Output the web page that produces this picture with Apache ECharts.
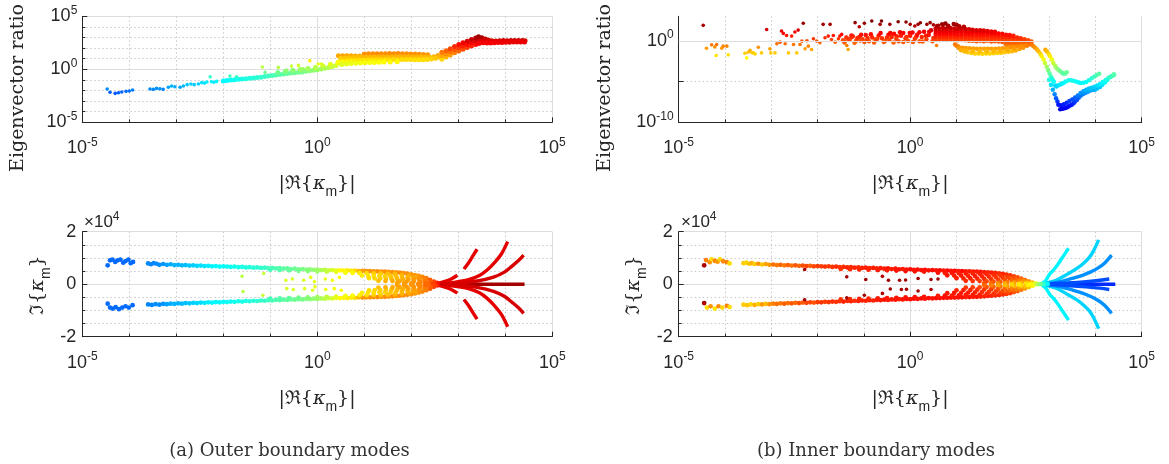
<!DOCTYPE html>
<html>
<head>
<meta charset="utf-8">
<script src="https://cdn.jsdelivr.net/npm/echarts@6/dist/echarts.min.js"></script>
<style>
html, body { margin: 0; background: #fff; }
#chart { width: 1169px; height: 464px; }
</style>
</head>
<body>
<div id="chart"></div>
<script>
// values; both top panels and all x axes are in decades
// top panels: [log10 |Re{k_m}|, log10 eigenvector ratio]
const outerRatioDots = [
  [-4.47,-1.86],[-4.41,-2.17],[-4.30,-2.27],[-4.23,-2.21],[-4.16,-2.14],[-4.07,-2.08],[-4.00,-2.05],[-3.93,-1.95],
  [-3.56,-1.86],[-3.49,-1.89],[-3.42,-1.80],[-3.35,-1.83],[-3.28,-1.89],[-3.17,-1.70],[-3.10,-1.58],[-3.03,-1.64],
  [-2.92,-1.70],[-2.85,-1.58],[-2.77,-1.45],[-2.69,-1.39],[-2.62,-1.45],[-2.53,-1.39],[-2.46,-1.26],[-2.40,-1.30],
  [-2.35,-1.20],[-2.28,-0.70],[-2.25,-1.17],[-2.20,-1.22],[-2.14,-1.14],[-1.86,-0.63],[-1.72,-0.70],[-1.17,0.22],
  [-1.11,-0.29],[-0.83,0.18],[-0.55,0.31],[-0.40,0.37],[-0.16,0.81],[0.02,0.50],[0.09,0.50],[-0.30,0.05],[-0.65,-0.10]
];
const outerRatioBand = [
  [-2.00,-1.10],[-1.92,-1.06],[-1.84,-1.02],[-1.76,-0.98],[-1.68,-0.95],[-1.60,-0.92],[-1.52,-0.88],[-1.44,-0.85],
  [-1.36,-0.82],[-1.28,-0.78],[-1.20,-0.74],[-1.12,-0.69],[-1.04,-0.64],[-0.96,-0.58],[-0.88,-0.53],[-0.80,-0.48],
  [-0.72,-0.44],[-0.64,-0.40],[-0.56,-0.36],[-0.48,-0.33],[-0.40,-0.29],[-0.32,-0.25],[-0.24,-0.19],[-0.16,-0.14],
  [-0.08,-0.09],[0.00,-0.05],[0.08,0.02],[0.16,0.10],[0.24,0.18],[0.32,0.26],[0.40,0.36],
  [-0.84,-0.30],[-0.68,-0.18],[-0.52,-0.10],[-0.36,-0.02],[-0.20,0.08],[-0.04,0.18],[0.12,0.32],[0.28,0.48],[0.44,0.62],
  [0.45,1.28],[0.54,1.29],[0.63,1.28],[0.72,1.27],[0.81,1.26],[0.90,1.25],
  [1.00,1.45],[1.09,1.46],[1.18,1.46],[1.27,1.47],[1.36,1.46],[1.45,1.47],[1.54,1.48],[1.63,1.47],[1.72,1.48],
  [1.81,1.47],[1.90,1.46],[1.99,1.45],[2.08,1.44],[2.17,1.42],[2.26,1.40],[2.35,1.38],
  [0.50,1.02],[0.59,1.05],[0.68,1.08],[0.77,1.10],[0.86,1.12],[0.95,1.14],[1.04,1.16],[1.13,1.15],[1.22,1.17],
  [1.31,1.16],[1.40,1.18],[1.49,1.17],[1.58,1.19],[1.67,1.18],[1.76,1.20],[1.85,1.19],[1.94,1.18],[2.03,1.17],
  [2.12,1.16],[2.21,1.15],[2.30,1.14],[2.39,1.14],[2.48,1.18],[2.57,1.30],
  [0.45,0.68],[0.54,0.72],[0.63,0.76],[0.72,0.80],[0.81,0.83],[0.90,0.85],[0.99,0.86],[1.08,0.88],[1.17,0.87],
  [1.26,0.89],[1.35,0.90],[1.44,0.89],[1.53,0.91],[1.62,0.92],[1.71,0.91],[1.80,0.93],[1.89,0.92],[1.98,0.92],
  [2.07,0.90],[2.16,0.90],[2.25,0.91],[2.34,0.93],[2.43,0.98],[2.52,1.05],[2.60,1.15],
  [0.52,0.45],[0.62,0.50],[0.72,0.55],[0.82,0.58],[0.92,0.60],[1.02,0.62],[1.12,0.63],[1.22,0.64],[1.32,0.66],
  [1.42,0.68],[1.55,0.70],[1.70,0.72],
  [2.65,0.95],[2.65,1.28],[2.65,1.60],[2.74,1.15],[2.74,1.45],[2.74,1.75],[2.83,1.35],[2.83,1.65],[2.83,1.95],
  [2.92,1.55],[2.92,1.85],[2.92,2.15],[3.01,1.72],[3.01,2.03],[3.01,2.35],[3.10,1.90],[3.10,2.20],[3.10,2.50],
  [3.19,2.05],[3.19,2.35],[3.19,2.65],[3.28,2.20],[3.28,2.50],[3.28,2.80],[3.37,2.35],[3.37,2.65],[3.37,2.95],
  [3.43,2.45],[3.43,2.75],[3.43,3.08],
  [3.50,2.98],[3.57,2.86],[3.64,2.76],[3.71,2.68],
  [3.48,2.70],[3.56,2.69],[3.64,2.68],[3.72,2.66],[3.80,2.68],[3.88,2.70],[3.96,2.71],[4.04,2.70],[4.12,2.71],
  [4.20,2.72],[4.28,2.72],[4.36,2.71],[4.42,2.70],
  [3.45,2.45],[3.53,2.50],[3.61,2.48],[3.69,2.47],[3.77,2.50],[3.85,2.52],[3.93,2.54],[4.01,2.55],[4.09,2.56],
  [4.17,2.58],[4.25,2.58],[4.33,2.57],[4.41,2.58]
];
const innerRatioDots = [
  [-4.47,1.89],[-4.40,-0.91],[-4.29,-0.50],[-4.22,-0.75],[-4.18,-0.46],[-4.19,-1.81],[-4.07,-0.91],[-4.04,-0.66],
  [-3.96,-0.66],[-3.93,-1.73],[-3.57,-1.53],[-3.53,-2.10],[-3.50,-1.40],[-3.46,-1.16],[-3.42,-1.45],[-3.39,-1.49],
  [-3.35,-1.61],[-3.28,-0.79],[-3.21,-1.49],[-3.10,1.39],[-3.03,-0.99],[-3.01,-1.49],[-2.92,-1.49],[-2.88,-0.37],
  [-2.81,-0.17],[-2.78,1.19],[-2.74,0.90],[-2.70,-0.37],[-2.67,0.65],[-2.63,-1.49],[-2.56,0.57],[-2.52,-0.46],
  [-2.49,1.07],[-2.45,-1.49],[-2.42,1.31],[-2.38,-0.46],[-2.34,-0.04],[-2.31,2.14],[-2.27,-0.99],[-2.23,0.00],
  [-2.20,-0.66],[-2.13,-1.07],[-2.09,0.24],[-2.02,-0.04],[-1.95,-0.25],[-1.88,2.01],[-1.84,0.37],[-1.77,0.57],
  [-1.73,2.01],[-1.70,0.16],[-1.66,0.65],[-1.62,-0.17],[-1.55,0.24],[-1.52,0.57],[-1.48,0.78],[-1.41,-0.04],
  [-1.37,-0.58],[-1.34,-1.07],[-1.26,0.37],[-1.19,2.22],[-1.15,0.37],[-1.10,1.72],[-1.08,-0.04],[-0.99,2.14],
  [-0.94,0.16],[-0.83,2.42],[-0.65,2.01],[-0.62,2.42],[-0.44,2.01],[-0.26,2.34],[-0.09,2.30],[0.00,2.01],
  [0.10,1.81],[0.17,2.01],[0.22,2.20],[0.36,2.01],[0.43,2.22],[0.57,-0.58],[0.61,1.89],[0.50,1.95],[0.68,2.05]
];
const innerRatioBand = [
  [-1.45,0.05],[-1.38,0.40],[-1.31,0.10],[-1.24,0.55],[-1.17,0.00],[-1.10,0.45],[-1.03,0.20],[-0.96,0.70],
  [-0.89,-0.05],[-0.82,0.40],[-0.75,0.15],[-0.68,0.65],[-0.61,0.30],[-0.54,0.00],[-0.47,0.75],
  [-1.42,-0.20],[-1.34,0.25],[-1.27,0.65],[-1.20,-0.25],[-1.13,0.30],[-1.06,0.75],[-0.99,-0.15],[-0.92,0.35],
  [-0.85,0.80],[-0.78,-0.20],[-0.71,0.25],[-0.64,0.95],[-0.57,-0.15],[-0.50,0.40],[-0.43,0.95],[-0.36,-0.20],
  [-0.29,0.55],[-0.22,1.05],[-0.15,-0.15],[-0.08,0.45],[-0.01,0.95],[0.06,-0.15],[0.13,0.50],[0.20,1.05],
  [0.27,-0.10],[0.34,0.60],[0.41,1.10],[0.48,-0.05],
  [-0.45,0.10],[-0.40,0.45],[-0.35,0.85],[-0.30,0.25],[-0.25,-0.05],[-0.20,0.60],[-0.15,0.95],[-0.10,0.30],
  [-0.05,0.00],[0.00,0.60],[0.05,1.00],[0.10,0.25],[0.15,0.75],[0.20,-0.05],[0.25,0.45],[0.30,1.10],[0.35,0.20],
  [0.40,0.70],[0.45,1.30],[0.50,0.35],
  [0.55,0.15],[0.55,0.5],[0.55,0.85],[0.55,1.2],[0.55,1.5],
  [0.63,0.1],[0.63,0.45],[0.63,0.8],[0.63,1.15],[0.63,1.5],
  [0.71,0.15],[0.71,0.5],[0.71,0.85],[0.71,1.2],[0.71,1.55],
  [0.79,0.1],[0.79,0.45],[0.79,0.8],[0.79,1.15],[0.79,1.5],
  [0.87,0.15],[0.87,0.5],[0.87,0.85],[0.87,1.2],[0.87,1.55],
  [0.95,0.1],[0.95,0.45],[0.95,0.8],[0.95,1.15],[0.95,1.5],
  [1.03,0.05],[1.03,0.4],[1.03,0.75],[1.03,1.1],[1.03,1.45],
  [1.11,0.1],[1.11,0.45],[1.11,0.8],[1.11,1.15],[1.11,1.5],
  [1.19,0.05],[1.19,0.4],[1.19,0.75],[1.19,1.1],[1.19,1.45],
  [1.27,0.0],[1.27,0.35],[1.27,0.7],[1.27,1.05],[1.27,1.4],
  [0.58,1.80],[0.70,2.00],[0.82,1.85],[0.94,2.05],[1.06,1.78],[1.16,1.72],[0.76,2.12],[1.00,1.95],
  [1.35,0.0],[1.35,0.35],[1.35,0.7],[1.35,1.05],[1.35,1.35],
  [1.43,-0.05],[1.43,0.3],[1.43,0.65],[1.43,1.0],[1.43,1.3],
  [1.51,0.0],[1.51,0.35],[1.51,0.7],[1.51,1.05],[1.51,1.3],
  [1.59,-0.05],[1.59,0.3],[1.59,0.65],[1.59,1.0],[1.59,1.25],
  [1.67,0.0],[1.67,0.35],[1.67,0.7],[1.67,1.0],[1.67,1.2],
  [1.75,-0.1],[1.75,0.25],[1.75,0.6],[1.75,0.95],[1.75,1.15],
  [1.83,-0.05],[1.83,0.3],[1.83,0.65],[1.83,0.95],[1.83,1.1],
  [1.91,-0.1],[1.91,0.25],[1.91,0.55],[1.91,0.9],
  [1.99,-0.15],[1.99,0.2],[1.99,0.5],[1.99,0.85],
  [2.07,-0.45],[2.07,-0.15],[2.07,0.15],[2.07,0.45],[2.07,0.75],
  [2.15,-0.45],[2.15,-0.15],[2.15,0.15],[2.15,0.45],[2.15,0.7],
  [2.23,-0.5],[2.23,-0.2],[2.23,0.1],[2.23,0.4],[2.23,0.6],
  [2.31,-0.5],[2.31,-0.2],[2.31,0.1],[2.31,0.4],
  [2.39,-0.55],[2.39,-0.25],[2.39,0.05],[2.39,0.3],
  [2.47,-0.55],[2.47,-0.25],[2.47,0.05],[2.47,0.2],
  [2.55,-0.5],[2.55,-0.2],[2.55,0.05],[2.62,-0.4],[2.62,-0.1],
  [0.97,-0.45],[1.04,-0.7],[1.12,-0.85],[1.20,-0.9],[1.28,-0.93],[1.36,-0.96],[1.44,-0.98],[1.52,-0.99],
  [1.60,-0.99],[1.68,-0.98],[1.76,-0.98],[1.84,-0.97],[1.92,-0.95],[2.00,-0.92],[2.08,-0.88],[2.16,-0.82],
  [2.24,-0.75],[2.32,-0.68],[2.40,-0.62],[2.48,-0.55],
  [1.00,-0.6],[1.05,-0.9],[1.10,-1.15],[1.17,-1.32],[1.24,-1.42],[1.32,-1.50],[1.40,-1.55],[1.48,-1.57],
  [1.56,-1.58],[1.64,-1.57],[1.72,-1.56],[1.80,-1.53],[1.88,-1.50],[1.96,-1.47],[2.04,-1.42],[2.12,-1.36],
  [2.20,-1.28],[2.28,-1.18],[2.36,-1.02],[2.44,-0.85],[2.52,-0.62],
  [1.20,-1.2],[1.35,-1.25],[1.50,-1.3],[1.65,-1.28],[1.80,-1.25],[1.95,-1.2],[2.10,-1.1],[2.25,-0.95],[2.40,-0.8]
];
const innerRatioTail = [
  [2.62,-0.46],[2.66,-0.66],[2.70,-0.87],[2.74,-1.08],[2.77,-1.28],[2.81,-1.60],[2.84,-1.90],[2.88,-2.30],
  [2.91,-2.72],[2.95,-3.18],[2.98,-3.63],[3.01,-4.00],[3.04,-4.37],[3.07,-4.68],[3.10,-5.00],[3.13,-5.50],
  [2.92,-1.10],[2.95,-1.28],[2.99,-1.60],[3.02,-1.90],[3.06,-2.30],[3.09,-2.72],[3.13,-3.05],[3.16,-3.34],
  [3.20,-3.55],[3.24,-3.75],[3.28,-3.92],[3.31,-4.04],[3.35,-4.02],[3.38,-3.85],
  [3.16,-5.60],[3.20,-5.45],[3.24,-5.35],[3.28,-5.25],[3.31,-5.19],[3.36,-5.00],[3.42,-4.85],[3.47,-4.85],
  [3.52,-4.90],[3.58,-5.00],[3.63,-5.10],[3.68,-5.18],[3.74,-5.15],[3.80,-5.05],[3.86,-4.85],[3.92,-4.60],
  [3.98,-4.38],[4.03,-4.20],[4.08,-4.05],
  [3.00,-4.78],[3.04,-5.40],[3.08,-6.01],[3.12,-6.55],[3.15,-7.04],[3.18,-7.45],[3.20,-7.86],[3.24,-8.40],
  [3.28,-8.35],[3.31,-8.32],[3.35,-8.25],[3.38,-8.19],[3.42,-8.05],[3.45,-7.95],[3.49,-7.86],[3.53,-7.65],
  [3.56,-7.45],[3.60,-7.25],[3.64,-7.00],[3.68,-6.75],[3.73,-6.55],[3.78,-6.42],[3.83,-6.28],[3.88,-6.14],
  [3.94,-6.05],[3.99,-6.01],[4.04,-5.85],[4.10,-5.68],[4.15,-5.40],[4.21,-5.11],[4.26,-4.80],[4.32,-4.49],
  [4.37,-4.30],[4.40,-4.20],
  [3.26,-7.90],[3.32,-7.80],[3.38,-7.60],[3.44,-7.40],[3.50,-7.20],[3.56,-6.95],[3.62,-6.70],[3.68,-6.40],
  [3.74,-6.20],[3.80,-6.00],[3.86,-5.85],[3.92,-5.75],[3.98,-5.65],[4.04,-5.50],[4.10,-5.30],[4.16,-5.05],
  [4.22,-4.80],[4.28,-4.55],[4.34,-4.35],[4.40,-4.10]
];

// bottom panels: [log10 |Re{k_m}|, Im{k_m} / 1e4, log10 eigenvector ratio (colour)]
const outerImagUpper = [
  [-4.46,0.72,-2.1],[-4.41,0.91,-2.1],[-4.36,0.94,-2.1],[-4.30,0.85,-2.1],[-4.25,0.91,-2.1],[-4.19,0.94,-2.1],
  [-4.13,0.82,-2.1],[-4.08,0.88,-2.1],[-4.02,0.94,-2.1],[-3.97,0.80,-2.1],[-3.92,0.85,-2.1],
  [-3.60,0.79,-1.9],[-3.54,0.76,-1.9],[-3.48,0.80,-1.9],[-3.42,0.78,-1.85],[-3.36,0.74,-1.85],[-3.28,0.77,-1.8],
  [-3.20,0.74,-1.7],[-3.12,0.76,-1.65],[-3.04,0.73,-1.6],[-2.96,0.74,-1.6],[-2.88,0.72,-1.55],[-2.80,0.73,-1.5],
  [-2.72,0.71,-1.45],[-2.64,0.72,-1.4],[-2.56,0.70,-1.35],[-2.48,0.71,-1.3],[-2.40,0.69,-1.25],[-2.32,0.70,-1.2],
  [-2.24,0.68,-1.15],[-2.16,0.69,-1.1],[-2.08,0.67,-1.1],[-2.00,0.68,-1.05],[-1.92,0.67,-1.0],[-1.84,0.66,-0.98],
  [-1.76,0.67,-0.95],[-1.68,0.65,-0.92],[-1.60,0.66,-0.9],[-1.52,0.64,-0.88],[-1.44,0.65,-0.85],[-1.36,0.63,-0.8],
  [-1.28,0.64,-0.78],[-1.20,0.62,-0.74],[-1.12,0.63,-0.7],[-1.04,0.61,-0.64],[-0.96,0.62,-0.58],[-0.88,0.60,-0.53],
  [-0.80,0.61,-0.48],[-0.72,0.59,-0.44],[-0.64,0.60,-0.4],[-0.56,0.58,-0.36],[-0.48,0.59,-0.33],[-0.40,0.57,-0.29],
  [-0.32,0.58,-0.25],[-0.24,0.56,-0.19],[-0.16,0.57,-0.14],[-0.08,0.55,-0.09],[0.00,0.56,-0.05],[0.08,0.54,0.1],
  [0.16,0.55,0.2],[0.24,0.53,0.3],[0.32,0.54,0.4],[0.40,0.52,0.5],
  [-1.00,0.55,-0.6],[-0.80,0.54,-0.5],[-0.60,0.53,-0.4],[-0.40,0.51,-0.3],[-0.20,0.50,-0.15],[0.00,0.49,0.0],
  [0.20,0.48,0.25],[0.40,0.47,0.5],
  [0.48,0.53,0.7],[0.56,0.52,0.75],[0.64,0.53,0.8],[0.72,0.51,0.85],[0.80,0.52,0.9],[0.88,0.50,1.2],[0.96,0.51,1.35],
  [1.04,0.50,1.45],[1.12,0.50,1.45],[1.20,0.49,1.45],[1.28,0.49,1.45],[1.36,0.48,1.45],[1.44,0.48,1.45],
  [1.52,0.47,1.45],[1.60,0.46,1.45],[1.68,0.45,1.45],[1.76,0.44,1.45],[1.84,0.42,1.45],[1.92,0.40,1.45],
  [2.00,0.38,1.4],[2.08,0.35,1.4],[2.16,0.32,1.45],[2.24,0.28,1.5],[2.32,0.23,1.6],[2.40,0.17,1.8],[2.48,0.10,2.0],
  [2.55,0.05,2.2],
  [0.60,0.44,0.6],[0.75,0.43,0.7],[0.90,0.42,0.8],[1.05,0.42,0.9],[1.20,0.41,1.0],[1.35,0.41,1.05],[1.50,0.40,1.1],
  [1.65,0.39,1.15],[1.80,0.36,1.2],[1.95,0.33,1.25],[2.10,0.28,1.3],
  [0.95,0.33,0.8],[1.08,0.32,0.85],[1.20,0.32,0.9],[1.32,0.31,0.95],[1.44,0.31,1.0],[1.56,0.30,1.05],[1.68,0.29,1.1],
  [1.80,0.28,1.15],[1.92,0.26,1.2],[2.04,0.24,1.3],[2.16,0.21,1.4],[2.28,0.17,1.5],
  [1.10,0.23,0.9],[1.22,0.22,0.95],[1.34,0.22,1.0],[1.46,0.21,1.05],[1.58,0.21,1.1],[1.70,0.20,1.15],[1.82,0.19,1.2],
  [1.94,0.18,1.3],[2.06,0.16,1.35],[2.18,0.14,1.45],[2.30,0.11,1.6],[2.42,0.08,1.8],
  [1.30,0.13,1.1],[1.45,0.12,1.2],[1.60,0.12,1.25],[1.75,0.11,1.3],[1.90,0.10,1.35],[2.05,0.09,1.4],[2.20,0.07,1.5],
  [2.35,0.05,1.7],[2.50,0.03,2.0],
  [1.70,0.04,1.3],[1.85,0.04,1.35],[2.00,0.03,1.4],[2.15,0.02,1.5],[2.30,0.01,1.7],[2.45,0.00,2.0],[2.55,0.00,2.3]
];
const outerImagLower = [
  [-4.46,-0.74,-2.1],[-4.41,-0.89,-2.1],[-4.35,-0.93,-2.1],[-4.29,-0.87,-2.1],[-4.22,-0.95,-2.1],[-4.15,-0.89,-2.1],
  [-4.08,-0.84,-2.1],[-4.01,-0.89,-2.1],[-3.93,-0.80,-2.1],
  [-3.60,-0.77,-1.9],[-3.52,-0.79,-1.9],[-3.44,-0.76,-1.85],[-3.36,-0.78,-1.85],[-3.28,-0.75,-1.8],[-3.20,-0.76,-1.7],
  [-3.12,-0.74,-1.65],[-3.04,-0.75,-1.6],[-2.96,-0.73,-1.6],[-2.88,-0.74,-1.55],[-2.80,-0.72,-1.5],[-2.72,-0.73,-1.45],
  [-2.64,-0.71,-1.4],[-2.56,-0.72,-1.35],[-2.48,-0.70,-1.3],[-2.40,-0.71,-1.25],[-2.32,-0.69,-1.2],[-2.24,-0.70,-1.15],
  [-2.16,-0.68,-1.1],[-2.08,-0.69,-1.1],[-2.00,-0.67,-1.05],[-1.92,-0.68,-1.0],[-1.84,-0.66,-0.98],[-1.76,-0.67,-0.95],
  [-1.68,-0.65,-0.92],[-1.60,-0.66,-0.9],[-1.52,-0.64,-0.88],[-1.44,-0.65,-0.85],[-1.36,-0.63,-0.8],[-1.28,-0.64,-0.78],
  [-1.20,-0.62,-0.74],[-1.12,-0.63,-0.7],[-1.04,-0.61,-0.64],[-0.96,-0.62,-0.58],[-0.88,-0.60,-0.53],[-0.80,-0.61,-0.48],
  [-0.72,-0.59,-0.44],[-0.64,-0.60,-0.4],[-0.56,-0.58,-0.36],[-0.48,-0.59,-0.33],[-0.40,-0.57,-0.29],[-0.32,-0.58,-0.25],
  [-0.24,-0.56,-0.19],[-0.16,-0.57,-0.14],[-0.08,-0.55,-0.09],[0.00,-0.56,-0.05],[0.08,-0.54,0.1],[0.16,-0.55,0.2],
  [0.24,-0.53,0.3],[0.32,-0.54,0.4],[0.40,-0.52,0.5],
  [-1.00,-0.55,-0.6],[-0.80,-0.54,-0.5],[-0.60,-0.53,-0.4],[-0.40,-0.51,-0.3],[-0.20,-0.50,-0.15],[0.00,-0.49,0.0],
  [0.20,-0.48,0.25],[0.40,-0.47,0.5],
  [0.48,-0.53,0.7],[0.56,-0.52,0.75],[0.64,-0.53,0.8],[0.72,-0.51,0.85],[0.80,-0.52,0.9],[0.88,-0.50,1.2],
  [0.96,-0.51,1.35],[1.04,-0.50,1.45],[1.12,-0.50,1.45],[1.20,-0.49,1.45],[1.28,-0.49,1.45],[1.36,-0.48,1.45],
  [1.44,-0.48,1.45],[1.52,-0.47,1.45],[1.60,-0.46,1.45],[1.68,-0.45,1.45],[1.76,-0.44,1.45],[1.84,-0.42,1.45],
  [1.92,-0.40,1.45],[2.00,-0.38,1.4],[2.08,-0.35,1.4],[2.16,-0.32,1.45],[2.24,-0.28,1.5],[2.32,-0.23,1.6],
  [2.40,-0.17,1.8],[2.48,-0.10,2.0],[2.55,-0.05,2.2],
  [0.60,-0.44,0.6],[0.75,-0.43,0.7],[0.90,-0.42,0.8],[1.05,-0.42,0.9],[1.20,-0.41,1.0],[1.35,-0.41,1.05],
  [1.50,-0.40,1.1],[1.65,-0.39,1.15],[1.80,-0.36,1.2],[1.95,-0.33,1.25],[2.10,-0.28,1.3],
  [0.95,-0.33,0.8],[1.08,-0.32,0.85],[1.20,-0.32,0.9],[1.32,-0.31,0.95],[1.44,-0.31,1.0],[1.56,-0.30,1.05],
  [1.68,-0.29,1.1],[1.80,-0.28,1.15],[1.92,-0.26,1.2],[2.04,-0.24,1.3],[2.16,-0.21,1.4],[2.28,-0.17,1.5],
  [1.10,-0.23,0.9],[1.22,-0.22,0.95],[1.34,-0.22,1.0],[1.46,-0.21,1.05],[1.58,-0.21,1.1],[1.70,-0.20,1.15],
  [1.82,-0.19,1.2],[1.94,-0.18,1.3],[2.06,-0.16,1.35],[2.18,-0.14,1.45],[2.30,-0.11,1.6],[2.42,-0.08,1.8],
  [1.30,-0.13,1.1],[1.45,-0.12,1.2],[1.60,-0.12,1.25],[1.75,-0.11,1.3],[1.90,-0.10,1.35],[2.05,-0.09,1.4],
  [2.20,-0.07,1.5],[2.35,-0.05,1.7],[2.50,-0.03,2.0],
  [1.70,-0.04,1.3],[1.85,-0.04,1.35],[2.00,-0.03,1.4],[2.15,-0.02,1.5],[2.30,-0.01,1.7]
];
const outerImagDots = [
  [-1.16,-0.42,0.3],[-1.14,0.41,0.3],[-0.67,0.15,0.4],[-0.65,-0.17,0.4],[-0.53,0.20,0.4],[-0.51,-0.20,0.4],
  [-0.29,0.15,0.45],[-0.27,-0.17,0.45],[-0.14,0.26,0.5],[-0.10,-0.23,0.5],[-0.06,0.10,0.5],[-0.05,-0.10,0.5],
  [0.17,0.20,0.55],[0.18,-0.20,0.55],[0.32,0.15,0.6],[0.36,-0.17,0.6],[0.47,0.26,0.65],[0.51,-0.23,0.65],
  [-1.60,0.30,0.2],[-1.58,-0.28,0.2]
];
// fan branches at large |Re|: [log10 |Re|, Im / 1e4]
const outerFanCurves = [
  [[2.55,0],[3.0,0],[3.5,0],[4.0,0],[4.41,0]],
  [[2.52,0.02],[2.70,0.10],[2.85,0.20],[2.98,0.34]],
  [[3.12,0.58],[3.22,0.82],[3.31,1.08],[3.40,1.33]],
  [[2.55,0.01],[2.90,0.07],[3.20,0.16],[3.45,0.33],[3.62,0.55],[3.78,0.84],[3.92,1.16],[4.05,1.62]],
  [[2.60,0.00],[3.00,0.04],[3.40,0.12],[3.75,0.27],[3.98,0.46],[4.15,0.70],[4.28,0.90],[4.39,1.11]],
  [[2.52,-0.02],[2.70,-0.10],[2.85,-0.20],[2.98,-0.34]],
  [[3.12,-0.58],[3.22,-0.82],[3.31,-1.08],[3.40,-1.33]],
  [[2.55,-0.01],[2.90,-0.07],[3.20,-0.16],[3.45,-0.33],[3.62,-0.55],[3.78,-0.84],[3.92,-1.16],[4.05,-1.62]],
  [[2.60,0.00],[3.00,-0.04],[3.40,-0.12],[3.75,-0.27],[3.98,-0.46],[4.15,-0.70],[4.28,-0.90],[4.39,-1.11]]
];
const outerFanLevels = [3.05, 2.6, 2.6, 2.6, 2.7, 2.6, 2.6, 2.6, 2.7];

const innerImagUpper = [
  [-4.45,0.72,1.9],[-4.41,0.92,-0.6],[-4.33,0.84,-0.8],[-4.29,0.95,-1.7],[-4.22,0.89,-0.7],[-4.16,0.86,-0.9],
  [-4.11,0.95,-1.6],[-4.04,0.87,-0.7],[-3.96,0.84,-0.6],[-3.90,0.79,-1.7],
  [-3.60,0.80,-1.5],[-3.54,0.82,-1.6],[-3.48,0.78,-1.4],[-3.42,0.80,-1.2],[-3.36,0.77,-1.5],[-3.28,0.78,-0.8],
  [-3.20,0.75,-1.4],[-3.12,0.77,-1.0],[-3.04,0.74,-0.9],[-2.96,0.75,-0.4],[-2.88,0.73,-0.5],[-2.80,0.74,-0.3],
  [-2.72,0.72,-0.5],[-2.64,0.73,-0.2],[-2.56,0.71,-0.4],[-2.48,0.72,-0.1],[-2.40,0.70,-0.3],[-2.32,0.71,0.0],
  [-2.24,0.69,0.1],[-2.16,0.70,-0.2],[-2.08,0.68,0.1],[-2.00,0.69,0.2],
  [-1.92,0.68,0.2],[-1.84,0.67,0.3],[-1.76,0.68,0.2],[-1.68,0.66,0.3],[-1.60,0.67,0.4],[-1.52,0.65,0.3],
  [-1.44,0.66,0.4],[-1.36,0.64,0.5],[-1.28,0.65,0.4],[-1.20,0.63,0.5],[-1.12,0.64,0.4],[-1.04,0.62,0.5],
  [-0.96,0.63,0.6],[-0.88,0.61,0.5],[-0.80,0.62,0.6],[-0.72,0.60,0.5],[-0.64,0.61,0.6],[-0.56,0.59,0.6],
  [-0.48,0.60,0.7],[-0.40,0.58,0.6],[-0.32,0.59,0.7],[-0.24,0.57,0.7],[-0.16,0.58,0.6],[-0.08,0.56,0.7],
  [0.00,0.57,0.8],[0.08,0.55,0.7],[0.16,0.56,0.8],[0.24,0.54,0.7],[0.32,0.55,0.8],[0.40,0.53,0.7],
  [-1.50,0.58,0.3],[-1.30,0.57,0.4],[-1.10,0.56,0.5],[-0.90,0.55,0.5],[-0.70,0.54,0.6],[-0.50,0.53,0.6],
  [-0.30,0.52,0.7],[-0.10,0.50,0.7],[0.10,0.49,0.7],[0.30,0.48,0.7],
  [0.48,0.54,0.8],[0.56,0.53,0.7],[0.64,0.53,0.8],[0.72,0.52,0.7],[0.80,0.52,0.8],[0.88,0.51,0.7],[0.96,0.51,0.8],
  [1.04,0.50,0.7],[1.12,0.50,0.8],[1.20,0.49,0.7],[1.28,0.49,0.6],[1.36,0.48,0.7],[1.44,0.48,0.6],[1.52,0.47,0.7],
  [1.60,0.46,0.6],[1.68,0.45,0.5],[1.76,0.44,0.6],[1.84,0.43,0.5],[1.92,0.41,0.4],[2.00,0.39,0.5],[2.08,0.37,0.4],
  [2.16,0.34,0.3],[2.24,0.30,0.2],[2.32,0.26,0.0],[2.40,0.21,-0.2],[2.48,0.16,-0.4],[2.56,0.11,-0.8],
  [2.64,0.06,-1.3],[2.72,0.02,-2.0],
  [0.60,0.44,0.7],[0.75,0.43,0.6],[0.90,0.43,0.7],[1.05,0.42,0.6],[1.20,0.41,0.6],[1.35,0.41,0.5],[1.50,0.40,0.6],
  [1.65,0.38,0.5],[1.80,0.36,0.4],[1.95,0.33,0.3],[2.10,0.29,0.2],[2.25,0.24,0.0],[2.40,0.17,-0.4],
  [0.80,0.34,0.7],[0.95,0.33,0.6],[1.10,0.33,0.6],[1.25,0.32,0.5],[1.40,0.31,0.6],[1.55,0.30,0.5],[1.70,0.29,0.4],
  [1.85,0.27,0.3],[2.00,0.25,0.2],[2.15,0.22,0.0],[2.30,0.18,-0.3],[2.45,0.12,-0.7],
  [1.00,0.23,0.6],[1.15,0.22,0.5],[1.30,0.22,0.6],[1.45,0.21,0.5],[1.60,0.20,0.4],[1.75,0.19,0.3],[1.90,0.18,0.2],
  [2.05,0.16,0.0],[2.20,0.14,-0.3],[2.35,0.11,-0.6],[2.50,0.07,-1.0],
  [1.20,0.13,0.4],[1.35,0.12,0.3],[1.50,0.12,0.2],[1.65,0.11,0.1],[1.80,0.10,0.0],[1.95,0.09,-0.2],[2.10,0.08,-0.5],
  [2.25,0.06,-0.9],[2.40,0.05,-1.2],[2.55,0.03,-1.6],
  [1.60,0.04,0.0],[1.75,0.04,-0.3],[1.90,0.03,-0.6],[2.05,0.03,-1.0],[2.20,0.02,-1.3],[2.35,0.01,-1.6],
  [2.50,0.01,-1.9],[2.55,0.00,-1.5],[2.62,0.00,-2.0],[2.69,0.00,-2.6],[2.76,0.00,-3.2],[2.83,0.00,-3.8],
  [2.90,0.00,-4.5],[2.97,0.00,-5.2]
];
const innerImagLower = [
  [-4.45,-0.72,1.9],[-4.39,-0.89,-1.7],[-4.31,-0.84,-0.8],[-4.22,-0.93,-1.8],[-4.14,-0.84,-0.7],[-4.06,-0.89,-1.6],
  [-3.96,-0.82,-0.6],[-3.90,-0.87,-1.7],
  [-3.60,-0.78,-1.5],[-3.52,-0.80,-1.4],[-3.44,-0.77,-1.6],[-3.36,-0.79,-1.2],[-3.28,-0.76,-1.5],[-3.20,-0.77,-0.9],
  [-3.12,-0.75,-1.3],[-3.04,-0.76,-0.8],[-2.96,-0.74,-0.6],[-2.88,-0.75,-0.4],[-2.80,-0.73,-0.5],[-2.72,-0.74,-0.2],
  [-2.64,-0.72,-0.4],[-2.56,-0.73,-0.1],[-2.48,-0.71,-0.3],[-2.40,-0.72,0.0],[-2.32,-0.70,-0.2],[-2.24,-0.71,0.1],
  [-2.16,-0.69,0.1],[-2.08,-0.70,-0.1],[-2.00,-0.68,0.2],
  [-1.92,-0.69,0.3],[-1.84,-0.67,0.2],[-1.76,-0.68,0.3],[-1.68,-0.66,0.4],[-1.60,-0.67,0.3],[-1.52,-0.65,0.4],
  [-1.44,-0.66,0.5],[-1.36,-0.64,0.4],[-1.28,-0.65,0.5],[-1.20,-0.63,0.4],[-1.12,-0.64,0.5],[-1.04,-0.62,0.6],
  [-0.96,-0.63,0.5],[-0.88,-0.61,0.6],[-0.80,-0.62,0.5],[-0.72,-0.60,0.6],[-0.64,-0.61,0.6],[-0.56,-0.59,0.7],
  [-0.48,-0.60,0.6],[-0.40,-0.58,0.7],[-0.32,-0.59,0.7],[-0.24,-0.57,0.6],[-0.16,-0.58,0.7],[-0.08,-0.56,0.8],
  [0.00,-0.57,0.7],[0.08,-0.55,0.8],[0.16,-0.56,0.7],[0.24,-0.54,0.8],[0.32,-0.55,0.7],[0.40,-0.53,0.8],
  [-1.50,-0.58,0.3],[-1.30,-0.57,0.4],[-1.10,-0.56,0.5],[-0.90,-0.55,0.5],[-0.70,-0.54,0.6],[-0.50,-0.53,0.6],
  [-0.30,-0.52,0.7],[-0.10,-0.50,0.7],[0.10,-0.49,0.7],[0.30,-0.48,0.7],
  [0.48,-0.54,0.7],[0.56,-0.53,0.8],[0.64,-0.53,0.7],[0.72,-0.52,0.8],[0.80,-0.52,0.7],[0.88,-0.51,0.8],
  [0.96,-0.51,0.7],[1.04,-0.50,0.8],[1.12,-0.50,0.7],[1.20,-0.49,0.6],[1.28,-0.49,0.7],[1.36,-0.48,0.6],
  [1.44,-0.48,0.7],[1.52,-0.47,0.6],[1.60,-0.46,0.5],[1.68,-0.45,0.6],[1.76,-0.44,0.5],[1.84,-0.43,0.4],
  [1.92,-0.41,0.5],[2.00,-0.39,0.4],[2.08,-0.37,0.3],[2.16,-0.34,0.2],[2.24,-0.30,0.0],[2.32,-0.26,-0.2],
  [2.40,-0.21,-0.4],[2.48,-0.16,-0.8],[2.56,-0.11,-1.3],[2.64,-0.06,-2.0],
  [0.60,-0.44,0.6],[0.75,-0.43,0.7],[0.90,-0.43,0.6],[1.05,-0.42,0.7],[1.20,-0.41,0.6],[1.35,-0.41,0.6],
  [1.50,-0.40,0.5],[1.65,-0.38,0.4],[1.80,-0.36,0.3],[1.95,-0.33,0.2],[2.10,-0.29,0.0],[2.25,-0.24,-0.3],
  [2.40,-0.17,-0.6],
  [0.80,-0.34,0.6],[0.95,-0.33,0.7],[1.10,-0.33,0.6],[1.25,-0.32,0.6],[1.40,-0.31,0.5],[1.55,-0.30,0.4],
  [1.70,-0.29,0.3],[1.85,-0.27,0.2],[2.00,-0.25,0.0],[2.15,-0.22,-0.3],[2.30,-0.18,-0.6],[2.45,-0.12,-1.0],
  [1.00,-0.23,0.5],[1.15,-0.22,0.6],[1.30,-0.22,0.5],[1.45,-0.21,0.4],[1.60,-0.20,0.3],[1.75,-0.19,0.2],
  [1.90,-0.18,0.0],[2.05,-0.16,-0.3],[2.20,-0.14,-0.6],[2.35,-0.11,-1.0],[2.50,-0.07,-1.4],
  [1.20,-0.13,0.3],[1.35,-0.12,0.2],[1.50,-0.12,0.1],[1.65,-0.11,0.0],[1.80,-0.10,-0.2],[1.95,-0.09,-0.5],
  [2.10,-0.08,-0.9],[2.25,-0.06,-1.2],[2.40,-0.05,-1.6],[2.55,-0.03,-2.0],
  [1.60,-0.04,-0.3],[1.75,-0.04,-0.6],[1.90,-0.03,-1.0],[2.05,-0.03,-1.3],[2.20,-0.02,-1.6],[2.35,-0.01,-1.9]
];
const innerImagDots = [
  [-2.28,0.56,2.0],[-1.37,0.28,2.0],[-0.96,0.18,2.0],[-0.99,-0.42,2.0],[-0.47,0.15,2.0],[-0.43,-0.18,2.0],
  [-0.23,0.15,2.0],[-0.19,-0.20,2.0],[-0.10,0.16,2.0],[-0.08,-0.19,2.0],[0.17,0.22,2.0],[0.17,-0.26,2.0],
  [0.45,0.18,2.0],[0.45,-0.20,2.0],[0.60,0.20,2.0],[-2.28,-0.59,2.0],[-1.37,-0.52,2.0],[-0.60,0.30,1.8],
  [-0.60,-0.35,1.8]
];
const innerFanCurves = [
  [[2.90,0],[3.30,0],[3.70,0],[4.10,0],[4.43,0]],
  [[2.85,0.04],[2.93,0.15],[3.01,0.38],[3.10,0.55],[3.18,0.73],[3.30,1.05],[3.42,1.37]],
  [[2.90,0.03],[3.15,0.15],[3.42,0.41],[3.60,0.60],[3.74,0.79],[3.86,1.00],[3.95,1.24],[4.07,1.69]],
  [[2.95,0.02],[3.25,0.10],[3.50,0.22],[3.72,0.34],[3.90,0.47],[4.06,0.62],[4.19,0.79],[4.35,1.11]],
  [[3.00,0.01],[3.40,0.05],[3.80,0.10],[4.10,0.15],[4.30,0.20]],
  [[2.85,-0.04],[2.93,-0.15],[3.01,-0.38],[3.10,-0.55],[3.18,-0.73],[3.30,-1.05],[3.42,-1.37]],
  [[2.90,-0.03],[3.15,-0.15],[3.42,-0.41],[3.60,-0.60],[3.74,-0.79],[3.86,-1.00],[3.95,-1.24],[4.07,-1.69]],
  [[2.95,-0.02],[3.25,-0.10],[3.50,-0.22],[3.72,-0.34],[3.90,-0.47],[4.06,-0.62],[4.19,-0.79],[4.35,-1.11]],
  [[3.00,-0.01],[3.40,-0.05],[3.80,-0.10],[4.10,-0.15],[4.30,-0.20]]
];
const innerFanLevels = [-7.6, -5.2, -5.6, -6.4, -7.2, -5.2, -5.6, -6.4, -7.2];

// colour scale limits (log10 ratio) for the two columns
const outerRange = [-3.7, 3.3];
const innerRange = [-9.6, 2.4];

const AX = '#262626';

function jet(t) {
  t = Math.max(0, Math.min(1, t));
  const c = v => Math.round(255 * Math.max(0, Math.min(1, v)));
  return 'rgb(' + c(Math.min(4 * t - 1.5, -4 * t + 4.5)) + ',' +
    c(Math.min(4 * t - 0.5, -4 * t + 3.5)) + ',' +
    c(Math.min(4 * t + 0.5, -4 * t + 2.5)) + ')';
}
const level = (v, r) => jet((v - r[0]) / (r[1] - r[0]));

const powRich = {
  b: { fontFamily: 'Liberation Sans', fontSize: 18, color: AX, lineHeight: 24 },
  s: { fontFamily: 'Liberation Sans', fontSize: 12, color: AX, verticalAlign: 'top', lineHeight: 12 }
};
// axes run in decades, labelled as powers of ten
const powLabel = v => '{b|10}{s|' + v + '}';

const tickStyle = { color: AX, width: 1 };
const gridLine = { color: '#dedede', width: 1 };
const minorLine = { color: '#c9c9c9', width: 1, type: [1.5, 2.5] };

function decadeXAxis(g) {
  return {
    type: 'value', gridIndex: g, min: -5, max: 5, interval: 5,
    axisLine: { onZero: false, lineStyle: { color: AX } },
    axisTick: { inside: true, length: 5, lineStyle: tickStyle },
    minorTick: { show: true, splitNumber: 5, length: 3, lineStyle: tickStyle },
    splitLine: { show: true, lineStyle: gridLine },
    minorSplitLine: { show: true, lineStyle: minorLine },
    axisLabel: { margin: 14, formatter: powLabel, rich: powRich }
  };
}

const grids = [
  { left: 82.3, top: 16.3, width: 470, height: 106 },
  { left: 678.7, top: 16.3, width: 463, height: 106 },
  { left: 82.3, top: 231.7, width: 470, height: 105 },
  { left: 678.7, top: 231.7, width: 463, height: 105 }
].map(g => Object.assign({ outerBoundsMode: 'none', containLabel: false }, g));

const yAxes = [
  {
    type: 'value', gridIndex: 0, min: -5, max: 5, interval: 5,
    axisLine: { show: true, onZero: false, lineStyle: { color: AX } },
    axisTick: { show: true, inside: true, length: 5, lineStyle: tickStyle },
    minorTick: { show: true, splitNumber: 5, length: 3, lineStyle: tickStyle },
    splitLine: { show: true, lineStyle: gridLine },
    minorSplitLine: { show: true, lineStyle: minorLine },
    axisLabel: { margin: 5, formatter: powLabel, rich: powRich }
  },
  {
    type: 'value', gridIndex: 1, min: -10, max: 3, interval: 5,
    axisLine: { show: true, onZero: false, lineStyle: { color: AX } },
    axisTick: { show: true, inside: true, length: 5, lineStyle: tickStyle },
    splitLine: { show: true, showMaxLine: false, lineStyle: minorLine },
    axisLabel: {
      margin: 5, rich: powRich, showMaxLabel: false,
      formatter: v => (v % 10 === 0 ? powLabel(v) : '')
    }
  }
];
[2, 3].forEach(g => yAxes.push({
  type: 'value', gridIndex: g, min: -2, max: 2, interval: 2,
  axisLine: { show: true, onZero: false, lineStyle: { color: AX } },
  axisTick: { show: true, inside: true, length: 5, lineStyle: tickStyle },
  minorTick: { show: true, splitNumber: 4, length: 3, lineStyle: tickStyle },
  splitLine: { show: true, lineStyle: gridLine },
  minorSplitLine: { show: true, lineStyle: minorLine },
  axisLabel: { margin: 6, fontFamily: 'Liberation Sans', fontSize: 18, color: AX }
}));

function scatter(g, data, size, range) {
  return {
    type: 'scatter', xAxisIndex: g, yAxisIndex: g, data, symbolSize: size, silent: true, z: 3,
    itemStyle: { color: p => level(p.value[2], range), opacity: 1 }
  };
}
const ratioData = arr => arr.map(p => [p[0], p[1], p[1]]);
function fans(g, curves, levels, range) {
  return curves.map((c, i) => ({
    type: 'line', xAxisIndex: g, yAxisIndex: g, silent: true, showSymbol: false, smooth: 0.35, z: 3,
    data: c,
    lineStyle: { width: 3.4, color: level(levels[i], range) }
  }));
}

const series = [
  // solid major grid line at 10^0 in the right-hand top panel, kept beneath the points
  {
    type: 'line', xAxisIndex: 1, yAxisIndex: 1, data: [], z: 1, silent: true,
    markLine: {
      silent: true, symbol: 'none', label: { show: false }, animation: false,
      lineStyle: { color: '#dedede', width: 1, type: 'solid' }, data: [{ yAxis: 0 }]
    }
  },
  scatter(0, ratioData(outerRatioBand), 5.0, outerRange),
  scatter(0, ratioData(outerRatioDots), 3.6, outerRange),
  scatter(1, ratioData(innerRatioBand.concat(innerRatioTail)), 4.5, innerRange),
  scatter(1, ratioData(innerRatioDots), 3.6, innerRange),
  scatter(2, outerImagUpper.concat(outerImagLower), 4.7, outerRange),
  scatter(2, outerImagDots, 3.6, outerRange),
  ...fans(2, outerFanCurves, outerFanLevels, outerRange),
  scatter(3, innerImagUpper.concat(innerImagLower), 4.7, innerRange),
  scatter(3, innerImagDots, 3.6, innerRange),
  ...fans(3, innerFanCurves, innerFanLevels, innerRange)
];

const serif = '"DejaVu Serif", "Liberation Serif", serif';
const titleRich = {
  k: { fontFamily: serif, fontSize: 19, fontStyle: 'italic', color: AX },
  m: { fontFamily: 'Liberation Sans', fontSize: 14, color: AX, verticalAlign: 'bottom', lineHeight: 14 }
};
function label(x, y, text, rot) {
  return {
    type: 'text', x, y, rotation: rot || 0, silent: true,
    style: {
      text, fontFamily: serif, fontSize: 19, fill: AX, align: 'center', verticalAlign: 'middle',
      lineHeight: 30, rich: titleRich
    }
  };
}
function exponentNote(x, y) {
  return {
    type: 'text', x, y, silent: true,
    style: {
      text: '×10{s|4}', fontFamily: 'Liberation Sans', fontSize: 17, fill: AX,
      align: 'left', verticalAlign: 'middle', lineHeight: 22,
      rich: { s: { fontFamily: 'Liberation Sans', fontSize: 12, color: AX, verticalAlign: 'top', lineHeight: 12 } }
    }
  };
}
const reTitle = '|ℜ{{k|κ}{m|m}}|';
const imTitle = 'ℑ{{k|κ}{m|m}}';

const graphic = [
  label(18, 88, 'Eigenvector ratio', Math.PI / 2),
  label(605, 88, 'Eigenvector ratio', Math.PI / 2),
  label(38, 285, imTitle, Math.PI / 2),
  label(634, 285, imTitle, Math.PI / 2),
  label(317, 184, reTitle, 0),
  label(910, 184, reTitle, 0),
  label(317, 399, reTitle, 0),
  label(910, 399, reTitle, 0),
  exponentNote(84, 222),
  exponentNote(681, 222),
  {
    type: 'text', x: 289.5, y: 451, silent: true,
    style: { text: '(a) Outer boundary modes', fontFamily: serif, fontSize: 18, fill: '#333', align: 'center', verticalAlign: 'middle' }
  },
  {
    type: 'text', x: 876, y: 451, silent: true,
    style: { text: '(b) Inner boundary modes', fontFamily: serif, fontSize: 18, fill: '#333', align: 'center', verticalAlign: 'middle' }
  }
];

const chart = echarts.init(document.getElementById('chart'));
chart.setOption({
  animation: false,
  backgroundColor: '#fff',
  grid: grids,
  xAxis: [0, 1, 2, 3].map(decadeXAxis),
  yAxis: yAxes,
  series,
  graphic
});
</script>
</body>
</html>
